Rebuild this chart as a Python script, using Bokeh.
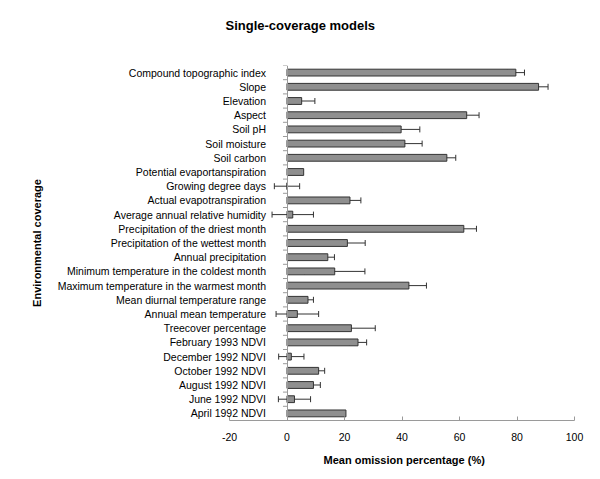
from bokeh.plotting import figure
from bokeh.models import (ColumnDataSource, Whisker, TeeHead, FixedTicker, FactorRange,
                          Range1d, Title)
from bokeh.embed import file_html
from bokeh.resources import INLINE

# ---- data (top to bottom as in the chart) ----
categories = [
    "Compound topographic index", "Slope", "Elevation", "Aspect", "Soil pH",
    "Soil moisture", "Soil carbon", "Potential evaportanspiration",
    "Growing degree days", "Actual evapotranspiration",
    "Average annual relative humidity", "Precipitation of the driest month",
    "Precipitation of the wettest month", "Annual precipitation",
    "Minimum temperature in the coldest month",
    "Maximum temperature in the warmest month",
    "Mean diurnal temperature range", "Annual mean temperature",
    "Treecover percentage", "February 1993 NDVI", "December 1992 NDVI",
    "October 1992 NDVI", "August 1992 NDVI", "June 1992 NDVI", "April 1992 NDVI",
]
mean_omission = [79.6, 87.5, 5.1, 62.5, 39.7, 41.0, 55.6, 5.8, 0.0, 21.9,
                 2.0, 61.5, 21.0, 14.2, 16.6, 42.4, 7.3, 3.6, 22.4, 24.7,
                 1.5, 11.0, 9.2, 2.6, 20.5]
error = [3.0, 3.3, 4.6, 4.3, 6.5, 6.0, 3.1, 0.0, 4.4, 3.8,
         7.2, 4.4, 6.2, 2.3, 10.5, 6.1, 1.9, 7.4, 8.3, 3.0,
         4.4, 2.1, 2.4, 5.6, 0.0]
x_ticks = [-20, 0, 20, 40, 60, 80, 100]
x_tick_labels = ["-20", "0", "20", "40", "60", "80", "100"]

FONT = "Liberation Sans"
AXIS_GRAY = "#9a9a9a"

# layout (pixels)
W, H = 600, 479
BORDER_RIGHT, BORDER_TOP, BORDER_BOTTOM = 26, 65, 59
FRAME_W = W - BORDER_RIGHT
AXIS_START_PX = 229          # where the value axis (-20) starts inside the frame

x_lo, x_hi = x_ticks[0], x_ticks[-1]
x_start = x_hi - (x_hi - x_lo) * FRAME_W / (FRAME_W - AXIS_START_PX)

factors = list(reversed(categories))

src = ColumnDataSource(dict(cat=categories, mean=mean_omission, err=error))

eb_cats = [c for c, e in zip(categories, error) if e > 0]
eb_lo = [m - e for m, e in zip(mean_omission, error) if e > 0]
eb_hi = [m + e for m, e in zip(mean_omission, error) if e > 0]
err_src = ColumnDataSource(dict(cat=eb_cats, lo=eb_lo, hi=eb_hi))

p = figure(width=W, height=H, y_range=FactorRange(factors=factors),
           x_range=Range1d(x_start, x_hi), title=None,
           output_backend="svg", toolbar_location=None,
           min_border_left=0, min_border_right=BORDER_RIGHT,
           min_border_top=BORDER_TOP, min_border_bottom=BORDER_BOTTOM)

p.outline_line_color = None
p.xgrid.grid_line_color = None
p.ygrid.grid_line_color = None
p.background_fill_color = "white"
p.border_fill_color = "white"

# titles: spacer next to the frame, then the chart title above it
p.add_layout(Title(text=" ", text_font_size="1px", standoff=14), "above")
p.add_layout(Title(text="Single-coverage models", align="left", offset=225,
                   vertical_align="top", standoff=28,
                   text_font=FONT, text_font_size="13px", text_font_style="bold",
                   text_color="#000000"), "above")

# bars
p.hbar(y="cat", left=0, right="mean", height=0.48, source=src,
       fill_color="#8f8f8f", line_color="#333333", line_width=1)

# error bars
p.add_layout(Whisker(source=err_src, base="cat", lower="lo", upper="hi",
                     dimension="width", line_color="#333333", line_width=1,
                     upper_head=TeeHead(size=6, line_color="#333333", line_width=1),
                     lower_head=TeeHead(size=6, line_color="#333333", line_width=1)))

# small ticks between categories on the x = 0 axis
tick_y = [(c, -0.5) for c in factors] + [(factors[-1], 0.5)]
p.segment(x0=-1.4, x1=0, y0=tick_y, y1=tick_y, line_color=AXIS_GRAY, line_width=1)

# x axis, drawn only from -20 to 100
xa = p.xaxis[0]
xa.bounds = (x_lo, x_hi)
xa.ticker = FixedTicker(ticks=x_ticks)
xa.major_label_overrides = {t: s for t, s in zip(x_ticks, x_tick_labels)}
xa.axis_line_color = AXIS_GRAY
xa.major_tick_line_color = AXIS_GRAY
xa.major_tick_in = 4
xa.major_tick_out = 0
xa.minor_tick_in = 0
xa.minor_tick_out = 0
xa.major_label_text_font = FONT
xa.major_label_text_font_size = "10.5px"
xa.major_label_text_color = "#000000"
xa.major_label_standoff = 12

p.add_layout(Title(text="Mean omission percentage (%)", align="left", offset=323,
                   vertical_align="top", standoff=20,
                   text_font=FONT, text_font_size="11px", text_font_style="bold",
                   text_color="#000000"), "below")

# category axis drawn at x = 0
ya = p.yaxis[0]
ya.fixed_location = 0
ya.axis_line_color = AXIS_GRAY
ya.major_tick_in = 0
ya.major_tick_out = 0
ya.major_label_standoff = 21
ya.major_label_text_font = FONT
ya.major_label_text_font_size = "10.5px"
ya.major_label_text_color = "#000000"
ya.axis_label = "Environmental coverage"
ya.axis_label_text_font = FONT
ya.axis_label_text_font_size = "11px"
ya.axis_label_text_font_style = "bold"
ya.axis_label_text_color = "#000000"
ya.axis_label_standoff = 12

open("out.html", "w").write(file_html(p, INLINE))
